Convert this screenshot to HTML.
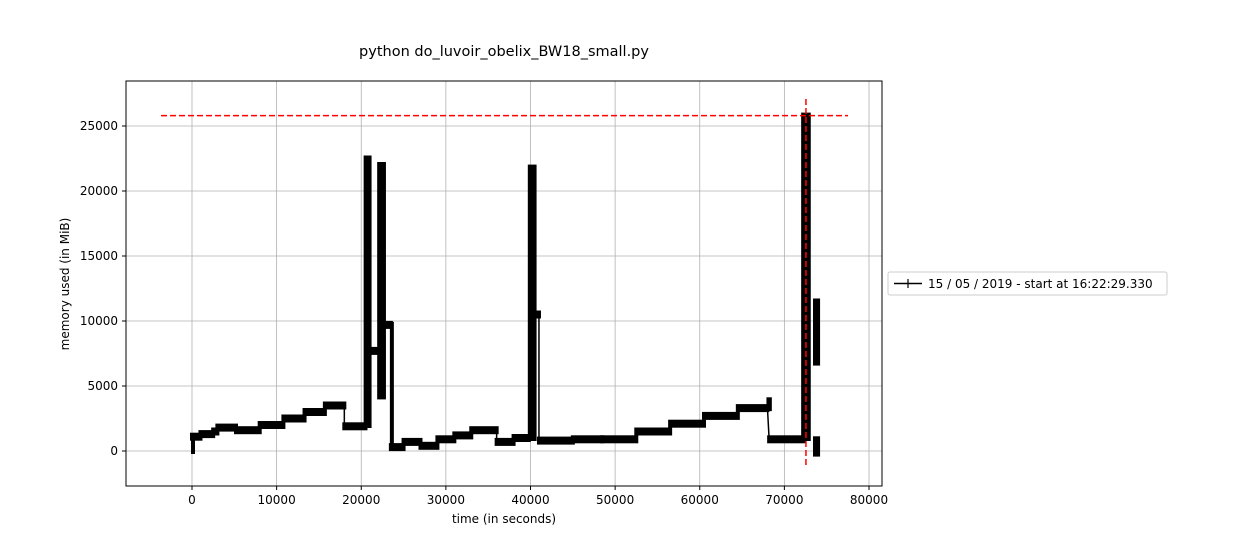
<!DOCTYPE html>
<html><head><meta charset="utf-8"><style>
body{margin:0;background:#fff;font-family:"Liberation Sans","DejaVu Sans",sans-serif;}
svg text{font-family:"DejaVu Sans","Liberation Sans",sans-serif;}
</style></head><body>
<svg id="chart" width="1260" height="540" xmlns="http://www.w3.org/2000/svg">
<rect width="1260" height="540" fill="#fff"/>
<text x="504" y="56" font-size="14.5" text-anchor="middle">python do_luvoir_obelix_BW18_small.py</text>
<g id="grid"></g>
<g id="marks"></g>
<rect x="126" y="81" width="756" height="405" fill="none" stroke="#000" stroke-width="1"/>
<g id="axes"></g>
<text x="504" y="523" font-size="12" text-anchor="middle">time (in seconds)</text>
<text transform="translate(69,284) rotate(-90)" font-size="12" text-anchor="middle">memory used (in MiB)</text>
<g>
<rect x="888" y="272" width="279" height="23" fill="#fff" stroke="#ccc" rx="2"/>
<line x1="894" y1="283.5" x2="922" y2="283.5" stroke="#000" stroke-width="1.5"/>
<line x1="908" y1="279" x2="908" y2="288" stroke="#000" stroke-width="1.2"/>
<text x="928" y="288" font-size="12">15 / 05 / 2019 - start at 16:22:29.330</text>
</g>
</svg>
<script>
const xTicks=[0,10000,20000,30000,40000,50000,60000,70000,80000];
const yTicks=[0,5000,10000,15000,20000,25000];
// steady levels: start time, end time, memory
const stepStart=[0,1000,2500,3000,5200,8000,10800,13300,15700,18000,21000,22700,23500,25000,27000,29000,31000,33000,36000,38000,40600,41000,45000,48500,52500,56500,60500,64500,68200];
const stepEnd=[1000,2500,3000,5200,8000,10800,13300,15700,18000,20500,22000,23500,25000,27000,29000,31000,33000,36000,38000,39800,41000,45000,48500,52500,56500,60500,64500,68000,72300];
const stepMem=[1100,1300,1500,1800,1600,2000,2500,3000,3500,1900,7700,9700,300,700,400,900,1200,1600,700,1000,10500,800,900,900,1500,2100,2700,3300,900];
// spikes: start, end, low, high
const spikeStart=[0,20400,22000,39800,72100,73500,73500,23500,68000];
const spikeEnd=[150,21100,22800,40600,73000,74100,74100,23700,68400];
const spikeLow=[0,2000,4200,1000,1000,6800,-200,300,3300];
const spikeHigh=[1000,22500,22000,21800,25800,11500,900,9700,3900];
const peakMem=25800, peakTime=72550, lineStart=-3660, lineEnd=77520;

const X=t=>192+t*0.0084625;
const Y=m=>451-m*0.013;
const NS='http://www.w3.org/2000/svg';
function mk(tag,attrs,parent){const e=document.createElementNS(NS,tag);for(const k in attrs)e.setAttribute(k,attrs[k]);parent.appendChild(e);return e;}
const grid=document.getElementById('grid'),axes=document.getElementById('axes'),marks=document.getElementById('marks');
xTicks.forEach(v=>{const x=X(v);
 const g=mk('line',{x1:x,x2:x,y1:81,y2:486,stroke:'#b0b0b0','stroke-width':0.8},grid);
 
 mk('line',{x1:x,x2:x,y1:486,y2:490,stroke:'#000'},axes);
 const t=mk('text',{x:x,y:504,'font-size':12,'text-anchor':'middle'},axes);t.textContent=v;
 });
yTicks.forEach(v=>{const y=Y(v);
 const g=mk('line',{x1:126,x2:882,y1:y,y2:y,stroke:'#b0b0b0','stroke-width':0.8},grid);
 
 mk('line',{x1:122,x2:126,y1:y,y2:y,stroke:'#000'},axes);
 const t=mk('text',{x:118,y:y+4,'font-size':12,'text-anchor':'end'},axes);t.textContent=v;
 });
// connecting line
let pts=[];stepStart.forEach((s,i)=>{pts.push(X(s)+','+Y(stepMem[i]));pts.push(X(stepEnd[i])+','+Y(stepMem[i]));});
const pl=mk('polyline',{points:pts.join(' '),fill:'none',stroke:'#000','stroke-width':1.5},marks);

stepStart.forEach((s,i)=>{const r=mk('rect',{x:X(s)-2,y:Y(stepMem[i])-4,width:X(stepEnd[i])-X(s)+4,height:8,fill:'#000'},marks);
 });
spikeStart.forEach((s,i)=>{const w=Math.max(2,X(spikeEnd[i])-X(s));
 const r=mk('rect',{x:X(s)-1,y:Y(spikeHigh[i])-3,width:w+2,height:Y(spikeLow[i])-Y(spikeHigh[i])+6,fill:'#000'},marks);
 });
const h=mk('line',{x1:X(lineStart),x2:X(lineEnd),y1:Y(peakMem),y2:Y(peakMem),stroke:'red','stroke-width':1.5,'stroke-dasharray':'6,3'},marks);

const v=mk('line',{x1:X(peakTime),x2:X(peakTime),y1:99,y2:468,stroke:'red','stroke-width':1.5,'stroke-dasharray':'6,3'},marks);

</script>
</body></html>
